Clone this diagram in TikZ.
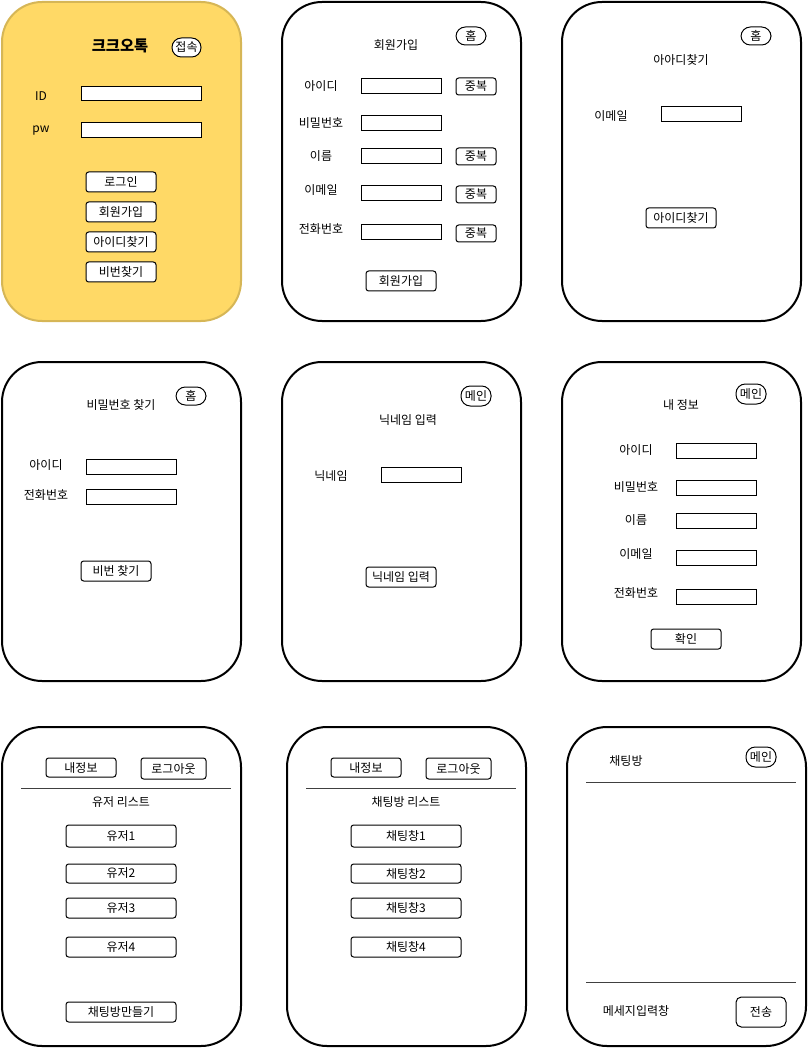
\documentclass[tikz,border=0pt]{standalone}
\usepackage{fontspec}
\setmainfont{Noto Sans CJK KR}
\definecolor{kakaofill}{HTML}{FFD966}
\definecolor{kakaoline}{HTML}{D6B656}
\tikzset{
  screenbox/.style={draw, line width=1.5pt, rounded corners=30pt},
  fieldbox/.style={draw, fill=white, line width=0.75pt},
  btnbox/.style={draw, fill=white, line width=0.75pt, rounded corners=2pt},
  pillbox/.style={draw, fill=white, line width=0.75pt, rounded corners=7pt},
  sepline/.style={draw=black!75, line width=0.75pt}
}
\newcommand{\screen}[3]
{   \draw[screenbox,#3] (#1) rectangle (#2);
}
\newcommand{\field}[3]
{   \draw[fieldbox] (#2) rectangle (#3) node[midway] (#1) {};
}
\newcommand{\button}[4]
{   \draw[btnbox] (#2) rectangle (#3) node[midway] (#1) {#4};
}
\newcommand{\pill}[4]
{   \draw[pillbox] (#2) rectangle (#3) node[midway] (#1) {#4};
}
\begin{document}
\begin{tikzpicture}[x=0.75pt, y=-0.75pt, font=\fontsize{9}{10}\selectfont]
\useasboundingbox (0,0) rectangle (807,1048);

 % login
 \screen{2,2}{241,321}{fill=kakaofill, draw=kakaoline}
   \node[font=\fontsize{11.5}{13}\selectfont\bfseries] (apptitle) at (120,46) {크크오톡};
   \pill{connect}{172,38}{201,57}{접속}
   \node (idlbl) at (41,96) {ID};
   \field{idfield}{81,87}{201,101}
   \node (pwlbl) at (41,131) {pw};
   \field{pwfield}{81,123}{201,138}
   \button{login}{86,172}{156,192}{로그인}
   \button{signup}{86,202}{156,222}{회원가입}
   \button{findid}{86,232}{156,252}{아이디찾기}
   \button{findpw}{86,262}{156,282}{비번찾기}

 % sign up
 \screen{282,2}{521,321}{}
   \node (signuptitle) at (396,45) {회원가입};
   \pill{home2}{456,27}{486,45}{홈}
   \node (sidlbl) at (321,86) {아이디};
   \field{sidfield}{361,79}{441,94}
   \button{siddup}{456,78}{496,95}{중복}
   \node (spwlbl) at (321,123) {비밀번호};
   \field{spwfield}{361,116}{441,131}
   \node (snamelbl) at (321,156) {이름};
   \field{snamefield}{361,149}{441,164}
   \button{snamedup}{456,148}{496,165}{중복}
   \node (smaillbl) at (321,190) {이메일};
   \field{smailfield}{361,186}{441,201}
   \button{smaildup}{456,186}{496,203}{중복}
   \node (stellbl) at (321,229) {전화번호};
   \field{stelfield}{361,225}{441,240}
   \button{steldup}{456,225}{496,242}{중복}
   \button{signupok}{366,271}{436,291}{회원가입}

 % find id
 \screen{562,2}{801,321}{}
   \pill{home3}{741,27}{771,45}{홈}
   \node (findidtitle) at (681,60) {아아디찾기};
   \node (fmaillbl) at (611,116) {이메일};
   \field{fmailfield}{661,107}{741,122}
   \button{findidok}{646,208}{716,228}{아이디찾기}

 % find pw
 \screen{2,362}{241,681}{}
   \pill{home4}{176,387}{206,405}{홈}
   \node (findpwtitle) at (121,405) {비밀번호 찾기};
   \node (pidlbl) at (46,465) {아이디};
   \field{pidfield}{86,459}{176,474}
   \node (ptellbl) at (46,495) {전화번호};
   \field{ptelfield}{86,489}{176,504}
   \button{findpwok}{81,561}{151,581}{비번 찾기}

 % nickname
 \screen{282,362}{521,681}{}
   \pill{main5}{461,386}{491,406}{메인}
   \node (nicktitle) at (408,420) {닉네임 입력};
   \node (nicklbl) at (331,476) {닉네임};
   \field{nickfield}{381,467}{461,482}
   \button{nickok}{366,567}{436,587}{닉네임 입력}

 % my info
 \screen{562,362}{801,681}{}
   \pill{main6}{736,384}{766,404}{메인}
   \node (infotitle) at (681,405) {내 정보};
   \node (iidlbl) at (636,450) {아이디};
   \field{iidfield}{676,443}{756,458}
   \node (ipwlbl) at (636,487) {비밀번호};
   \field{ipwfield}{676,480}{756,495}
   \node (inamelbl) at (636,520) {이름};
   \field{inamefield}{676,513}{756,528}
   \node (imaillbl) at (636,554) {이메일};
   \field{imailfield}{676,550}{756,565}
   \node (itellbl) at (636,593) {전화번호};
   \field{itelfield}{676,589}{756,604}
   \button{infook}{651,629}{721,649}{확인}

 % user list
 \screen{2,727}{241,1046}{}
   \button{myinfo7}{46,758}{116,777}{내정보}
   \button{logout7}{141,758}{206,779}{로그아웃}
   \draw[sepline] (21,788) -- (231,788);
   \node (usertitle) at (121,802) {유저 리스트};
   \button{user1}{66,825}{176,847}{유저1}
   \button{user2}{66,864}{176,883}{유저2}
   \button{user3}{66,898}{176,918}{유저3}
   \button{user4}{66,937}{176,957}{유저4}
   \button{newroom}{66,1002}{176,1022}{채팅방만들기}

 % room list
 \screen{287,727}{526,1046}{}
   \button{myinfo8}{331,758}{401,777}{내정보}
   \button{logout8}{426,758}{491,779}{로그아웃}
   \draw[sepline] (306,788) -- (516,788);
   \node (roomtitle) at (406,802) {채팅방 리스트};
   \button{room1}{351,825}{461,847}{채팅창1}
   \button{room2}{351,864}{461,883}{채팅창2}
   \button{room3}{351,898}{461,918}{채팅창3}
   \button{room4}{351,937}{461,957}{채팅창4}

 % chat room
 \screen{567,727}{806,1046}{}
   \node (chattitle) at (626,761) {채팅방};
   \pill{main9}{746,747}{776,767}{메인}
   \draw[sepline] (586,782) -- (796,782);
   \draw[sepline] (586,982) -- (796,982);
   \node (msglbl) at (636,1011) {메세지입력창};
   \draw[btnbox, rounded corners=4pt] (736,997) rectangle (786,1027) node[midway] (send) {전송};

\end{tikzpicture}
\end{document}
